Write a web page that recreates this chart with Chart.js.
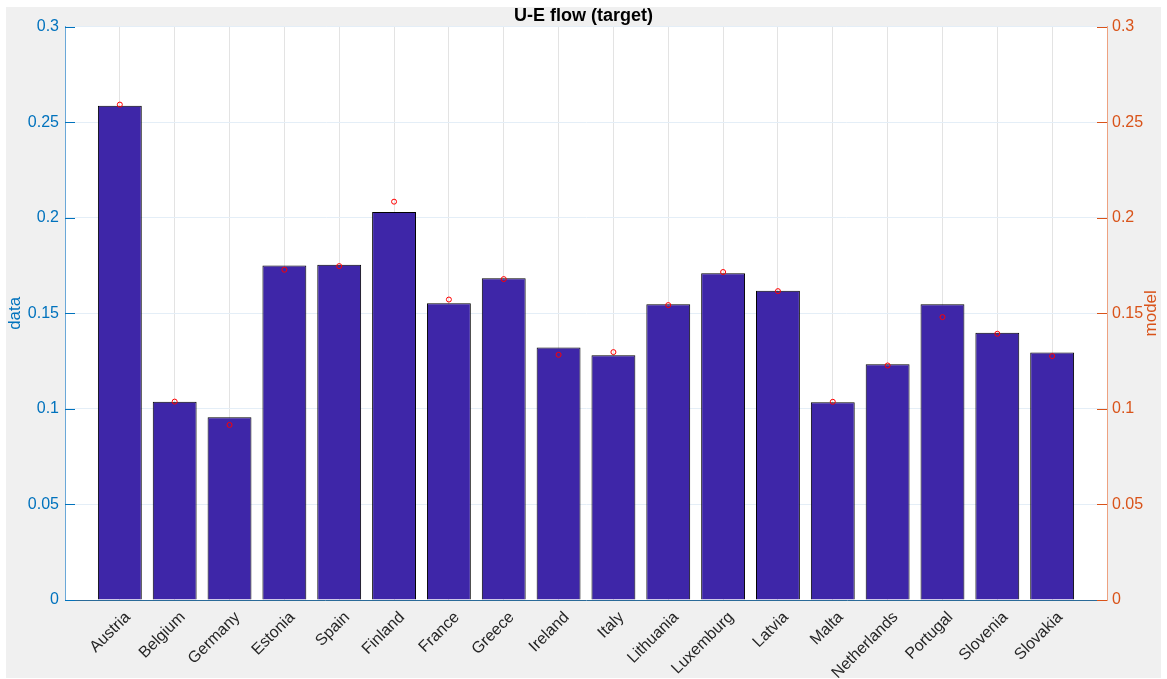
<!DOCTYPE html>
<html>
<head>
<meta charset="utf-8">
<script src="https://cdn.jsdelivr.net/npm/chart.js@4"></script>
<style>
  body { margin: 0; background: #fff; }
  canvas { display: block; }
</style>
</head>
<body>
<canvas id="chart" width="1167" height="679"></canvas>
<script>
const countries = ['Austria', 'Belgium', 'Germany', 'Estonia', 'Spain', 'Finland', 'France', 'Greece', 'Ireland',
  'Italy', 'Lithuania', 'Luxemburg', 'Latvia', 'Malta', 'Netherlands', 'Portugal', 'Slovenia', 'Slovakia']
const dataValues = [0.2586, 0.1037, 0.0956, 0.1750, 0.1754, 0.2030, 0.1553, 0.1684, 0.1321,
  0.1281, 0.1548, 0.1710, 0.1618, 0.1035, 0.1234, 0.1548, 0.1398, 0.1295]
const modelValues = [0.2592, 0.1038, 0.0916, 0.1728, 0.1747, 0.2084, 0.1572, 0.1679, 0.1283,
  0.1297, 0.1543, 0.1716, 0.1616, 0.1037, 0.1227, 0.1480, 0.1393, 0.1276]
const yTicks = [0, 0.05, 0.1, 0.15, 0.2, 0.25, 0.3]

const FONT = '"Liberation Sans", Arial, Helvetica, sans-serif'
const BLUE = '#0072BD'
const ORANGE = '#D95319'

// gray figure background + white axes box
const background = {
  id: 'background',
  beforeDraw(chart) {
    const ctx = chart.ctx, a = chart.chartArea
    ctx.save()
    ctx.fillStyle = '#f0f0f0'
    ctx.fillRect(6, 7, 1155, 671)
    ctx.fillStyle = '#ffffff'
    ctx.fillRect(a.left, a.top, a.right - a.left, a.bottom - a.top)
    ctx.restore()
  }
}

// matlab style ticks pointing into the axes, plus the right label (reads bottom to top)
const innerTicks = {
  id: 'innerTicks',
  afterDraw(chart) {
    const ctx = chart.ctx, a = chart.chartArea
    ctx.save()
    ctx.lineWidth = 1
    yTicks.forEach(v => {
      const py = Math.round(chart.scales.y.getPixelForValue(v)) + 0.5
      ctx.strokeStyle = BLUE
      ctx.beginPath(); ctx.moveTo(a.left, py); ctx.lineTo(a.left + 10, py); ctx.stroke()
      const py2 = Math.round(chart.scales.y2.getPixelForValue(v)) + 0.5
      ctx.strokeStyle = ORANGE
      ctx.beginPath(); ctx.moveTo(a.right, py2); ctx.lineTo(a.right - 10, py2); ctx.stroke()
    })
    ctx.translate(1151, (a.top + a.bottom) / 2)
    ctx.rotate(-Math.PI / 2)
    ctx.fillStyle = ORANGE
    ctx.font = '17px ' + FONT
    ctx.textAlign = 'center'
    ctx.textBaseline = 'middle'
    ctx.fillText('model', 0, 0)
    ctx.restore()
  }
}

const fmt = v => String(+v.toFixed(2))

new Chart(document.getElementById('chart'), {
  type: 'bar',
  data: {
    datasets: [{
      type: 'bar',
      label: 'data',
      data: dataValues.map((v, i) => ({ x: i + 1, y: v })),
      backgroundColor: '#3e26a8',
      borderColor: '#000000',
      borderWidth: 1,
      barPercentage: 0.8,
      categoryPercentage: 1,
      yAxisID: 'y',
      order: 2
    }, {
      type: 'line',
      label: 'model',
      data: modelValues.map((v, i) => ({ x: i + 1, y: v })),
      showLine: false,
      pointStyle: 'circle',
      pointRadius: 2.5,
      pointBorderWidth: 1,
      pointBorderColor: '#ff0000',
      pointBackgroundColor: 'rgba(0,0,0,0)',
      yAxisID: 'y2',
      order: 1
    }]
  },
  options: {
    responsive: false,
    animation: false,
    layout: { padding: 0 },
    plugins: {
      legend: { display: false },
      tooltip: { enabled: false },
      title: {
        display: true,
        text: 'U-E flow (target)',
        color: '#000',
        font: { family: FONT, size: 18, weight: 'bold' },
        padding: { top: 5, bottom: 0 }
      }
    },
    scales: {
      x: {
        type: 'linear',
        min: 0,
        max: 19,
        offset: false,
        afterFit: s => { s.height = 79 },
        afterBuildTicks: s => { s.ticks = countries.map((c, i) => ({ value: i + 1 })) },
        ticks: {
          autoSkip: false,
          minRotation: 45,
          maxRotation: 45,
          padding: 8,
          labelOffset: 8,
          color: '#262626',
          font: { family: FONT, size: 16 },
          callback: v => countries[v - 1] || ''
        },
        grid: { color: '#e3e3e3', drawTicks: false, offset: false },
        border: { color: '#2a6a98' }
      },
      y: {
        position: 'left',
        min: 0,
        max: 0.3,
        afterFit: s => { s.width = 65 },
        afterBuildTicks: s => { s.ticks = yTicks.map(v => ({ value: v })) },
        ticks: {
          padding: 6,
          color: BLUE,
          font: { family: FONT, size: 16 },
          callback: fmt
        },
        grid: { color: '#e4eef7', drawTicks: false },
        border: { color: '#6aa8d8' },
        title: {
          display: true,
          text: 'data',
          color: BLUE,
          font: { family: FONT, size: 17 },
          padding: { top: 5, bottom: 0 }
        }
      },
      y2: {
        position: 'right',
        min: 0,
        max: 0.3,
        afterFit: s => { s.width = 60 },
        afterBuildTicks: s => { s.ticks = yTicks.map(v => ({ value: v })) },
        ticks: {
          padding: 5,
          color: ORANGE,
          font: { family: FONT, size: 16 },
          callback: fmt
        },
        grid: { drawOnChartArea: false, drawTicks: false },
        border: { color: '#eea280' }
      }
    }
  },
  plugins: [background, innerTicks]
})
</script>
</body>
</html>
